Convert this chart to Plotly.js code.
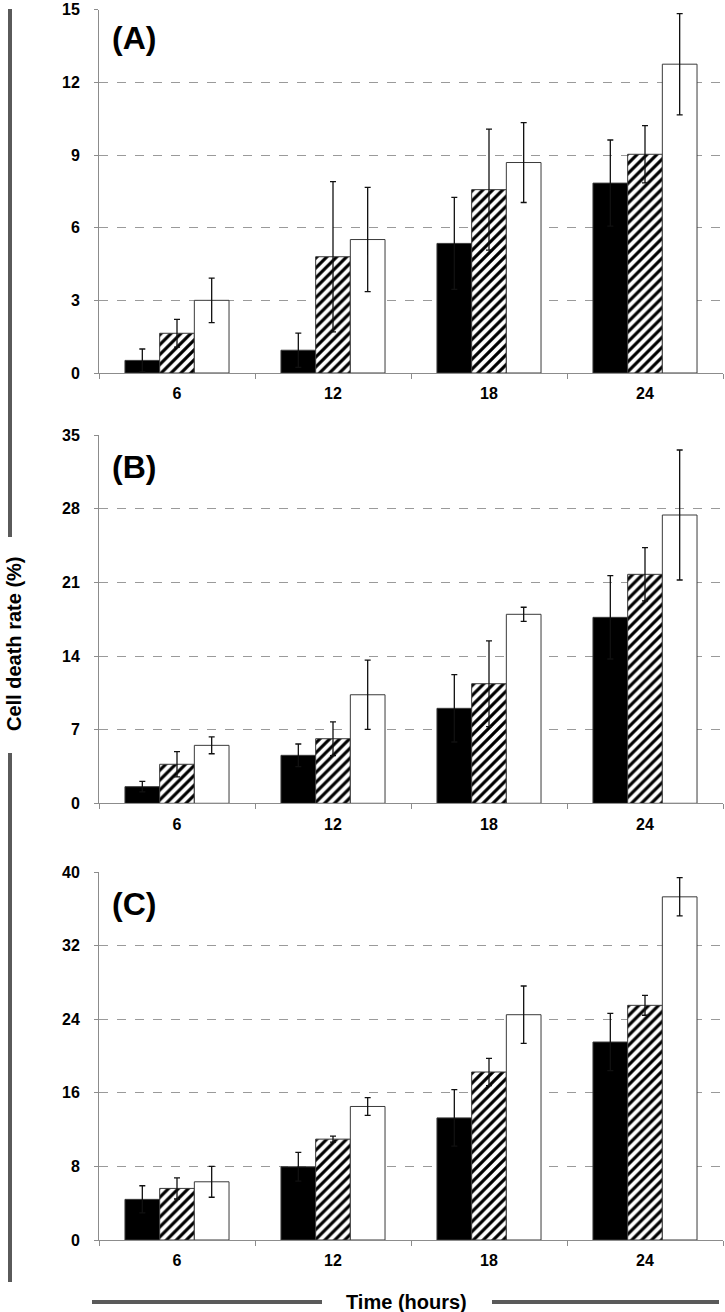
<!DOCTYPE html>
<html>
<head>
<meta charset="utf-8">
<script src="https://cdn.plot.ly/plotly-3.0.1.min.js"></script>
<style>html,body{margin:0;padding:0;background:#fff;}#chart{width:725px;height:1312px;}</style>
</head>
<body>
<div id="chart"></div>
<script>
// ---- data ----
const timeLabels = ["6", "12", "18", "24"];
const panelLabels = ["(A)", "(B)", "(C)"];

// Panel A
const aBlack = [0.52, 0.94, 5.35, 7.84];
const aBlackErr = [0.47, 0.71, 1.90, 1.78];
const aHatch = [1.64, 4.80, 7.57, 9.03];
const aHatchErr = [0.57, 3.10, 2.50, 1.18];
const aWhite = [3.00, 5.51, 8.69, 12.75];
const aWhiteErr = [0.92, 2.15, 1.65, 2.09];

// Panel B
const bBlack = [1.58, 4.56, 9.03, 17.68];
const bBlackErr = [0.50, 1.08, 3.20, 3.96];
const bHatch = [3.71, 6.14, 11.37, 21.77];
const bHatchErr = [1.20, 1.60, 4.08, 2.53];
const bWhite = [5.51, 10.32, 17.97, 27.41];
const bWhiteErr = [0.80, 3.30, 0.67, 6.18];

// Panel C
const cBlack = [4.42, 7.96, 13.28, 21.53];
const cBlackErr = [1.48, 1.56, 3.08, 3.12];
const cHatch = [5.61, 10.97, 18.27, 25.52];
const cHatchErr = [1.15, 0.32, 1.48, 1.08];
const cWhite = [6.33, 14.52, 24.50, 37.32];
const cWhiteErr = [1.68, 0.96, 3.12, 2.08];

const yRanges = [[0, 15], [0, 35], [0, 40]];
const yTicks = [[0, 3, 6, 9, 12, 15], [0, 7, 14, 21, 28, 35], [0, 8, 16, 24, 32, 40]];

// ---- build ----
const W = 725, H = 1312;
const py = p => 1 - p / H;
const px = p => p / W;

const panels = [
  {black: aBlack, be: aBlackErr, hatch: aHatch, he: aHatchErr, white: aWhite, we: aWhiteErr, top: 9.5, bot: 373},
  {black: bBlack, be: bBlackErr, hatch: bHatch, he: bHatchErr, white: bWhite, we: bWhiteErr, top: 435, bot: 803.3},
  {black: cBlack, be: cBlackErr, hatch: cHatch, he: cHatchErr, white: cWhite, we: cWhiteErr, top: 872, bot: 1240}
];

const outline = {color: '#3a3a3a', width: 1};
function errCfg(arr) {
  return {type: 'data', array: arr, visible: true, color: '#111', thickness: 1.3, width: 3};
}

const FONT = 'Arial, "Liberation Sans", sans-serif';
const traces = [];
const layout = {
  width: W, height: H,
  margin: {l: 0, r: 0, t: 0, b: 0},
  paper_bgcolor: '#fff', plot_bgcolor: '#fff',
  showlegend: false,
  barmode: 'group', bargap: 0.333, bargroupgap: 0,
  font: {family: FONT, color: '#000'},
  annotations: [], shapes: []
};

panels.forEach((p, i) => {
  const n = i === 0 ? '' : String(i + 1);
  const xa = 'x' + n, ya = 'y' + n;
  traces.push({type: 'bar', x: timeLabels, y: p.black, xaxis: xa, yaxis: ya,
    marker: {color: '#000', line: outline}, error_y: errCfg(p.be), offsetgroup: 'a'});
  traces.push({type: 'bar', x: timeLabels, y: p.hatch, xaxis: xa, yaxis: ya,
    marker: {color: '#fff', line: outline,
      pattern: {shape: '/', fgcolor: '#000', bgcolor: '#fff', size: 7, solidity: 0.45, fillmode: 'replace'}},
    error_y: errCfg(p.he), offsetgroup: 'b'});
  traces.push({type: 'bar', x: timeLabels, y: p.white, xaxis: xa, yaxis: ya,
    marker: {color: '#fff', line: outline}, error_y: errCfg(p.we), offsetgroup: 'c'});

  layout['xaxis' + n] = {
    domain: [px(99), px(723)], anchor: ya,
    type: 'category', tickson: 'boundaries', ticks: 'outside', ticklen: 5, tickcolor: '#8c8c8c',
    showline: true, linecolor: '#8c8c8c', linewidth: 1, showgrid: false, zeroline: false,
    tickfont: {size: 16, family: FONT, weight: 'bold', color: '#000'},
    ticklabelstandoff: 6, ticklabeloverflow: 'allow', fixedrange: true
  };
  layout['yaxis' + n] = {
    domain: [py(p.bot), py(p.top)], anchor: xa,
    range: [yRanges[i][0], yRanges[i][1] * 1.0005], tickvals: yTicks[i], ticktext: yTicks[i].map(String),
    ticks: 'outside', ticklen: 4, tickcolor: '#8c8c8c',
    showline: true, linecolor: '#8c8c8c', linewidth: 1,
    showgrid: true, gridcolor: '#9a9a9a', griddash: 'dash', gridwidth: 1, zeroline: false,
    tickfont: {size: 16, family: FONT, weight: 'bold', color: '#000'},
    ticklabelstandoff: 11, ticklabeloverflow: 'allow', fixedrange: true
  };
  layout.annotations.push({
    text: '<b>' + panelLabels[i] + '</b>', xref: 'paper', yref: 'paper',
    x: px(110), y: py((i === 0 ? 6 : p.top) + 32), xanchor: 'left', yanchor: 'middle', showarrow: false,
    font: {size: 32, family: FONT, color: '#000'}
  });
});

// axis titles
layout.annotations.push({
  text: '<b>Cell death rate (%)</b>', xref: 'paper', yref: 'paper',
  x: px(14), y: py(644), xanchor: 'center', yanchor: 'middle', textangle: -90, showarrow: false,
  font: {size: 20, family: FONT, color: '#000'}
});
layout.annotations.push({
  text: '<b>Time (hours)</b>', xref: 'paper', yref: 'paper',
  x: px(406), y: py(1302), xanchor: 'center', yanchor: 'middle', showarrow: false,
  font: {size: 20, family: FONT, color: '#000'}
});

// decorative gray lines around axis titles
const lineStyle = {color: '#5a5a5a', width: 4};
layout.shapes.push({type: 'line', xref: 'paper', yref: 'paper', x0: px(10), x1: px(10), y0: py(9), y1: py(537), line: lineStyle});
layout.shapes.push({type: 'line', xref: 'paper', yref: 'paper', x0: px(10), x1: px(10), y0: py(753), y1: py(1282), line: lineStyle});
layout.shapes.push({type: 'line', xref: 'paper', yref: 'paper', x0: px(92), x1: px(322), y0: py(1302), y1: py(1302), line: lineStyle});
layout.shapes.push({type: 'line', xref: 'paper', yref: 'paper', x0: px(492), x1: px(719), y0: py(1302), y1: py(1302), line: lineStyle});

Plotly.newPlot('chart', traces, layout, {displayModeBar: false, staticPlot: true});
</script>
</body>
</html>
